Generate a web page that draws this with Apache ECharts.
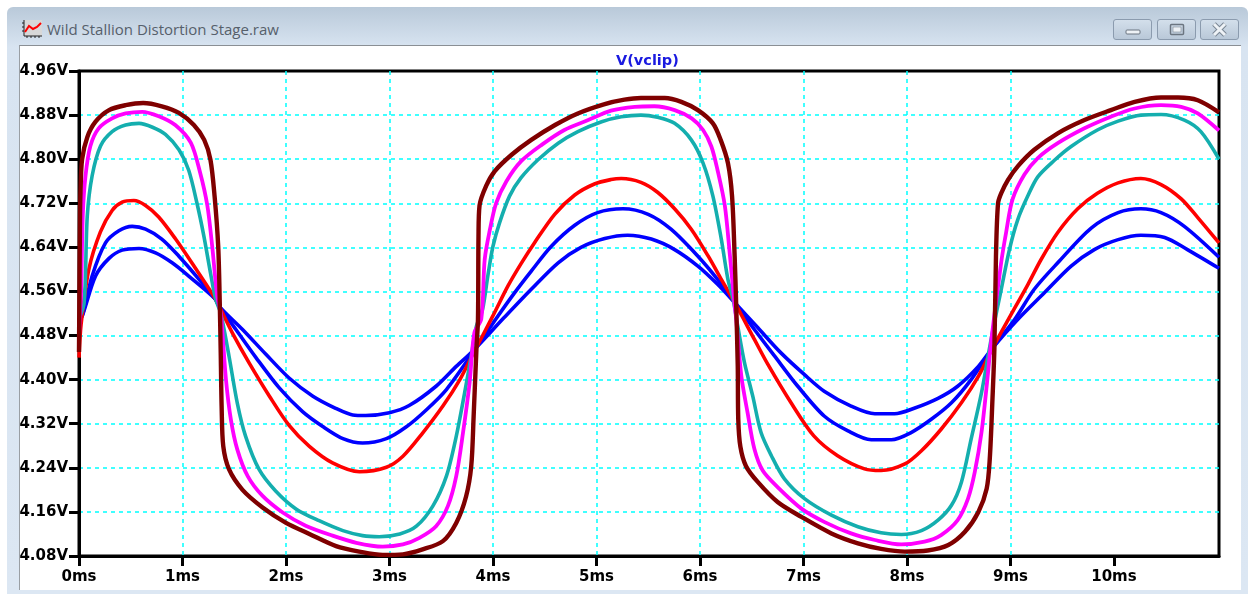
<!DOCTYPE html>
<html>
<head>
<meta charset="utf-8">
<title>Wild Stallion Distortion Stage.raw</title>
<script src="https://cdn.jsdelivr.net/npm/echarts@6/dist/echarts.min.js"></script>
<style>
  html, body { margin: 0; padding: 0; background: #fff; }
  #win { position: absolute; left: 7px; top: 7px; width: 1241px; height: 587px; border-radius: 6px 6px 0 0;
         background: linear-gradient(#b9c9d9, #d8e4f1 40px, #dce7f3); }
  #page { position: absolute; left: 19px; top: 45px; width: 1222px; height: 545px; background: #fff;
          border-top: 1px solid #8a8f94; border-left: 1px solid #9a9fa4; box-sizing: border-box; }
  #caption { position: absolute; left: 47px; top: 19px; font: 15px "Open Sans", sans-serif; color: #56606b; white-space: nowrap; }
  .btn { position: absolute; top: 19px; width: 39px; height: 21px; box-sizing: border-box; border: 1px solid #8b9bae;
         border-radius: 3px; background: linear-gradient(#d3dfeb, #b9c8d8); }
  .btn svg { position: absolute; left: 0; top: 0; }
  #icon { position: absolute; left: 21px; top: 18px; }
  #chart { position: absolute; left: 0; top: 0; width: 1249px; height: 594px; }
</style>
</head>
<body>
<div id="win"></div>
<div id="page"></div>
<svg id="icon" width="22" height="22">
  <rect x="3" y="2" width="18" height="16" fill="#d8d8d8"/>
  <path d="M3 2V18H21M1 5H3M1 9H3M1 13H3M6 18V20M10 18V20M14 18V20M18 18V20" stroke="#222" fill="none"/>
  <path d="M4 14L8 8L12 11L16 9L20 5" stroke="#f00" stroke-width="2" fill="none"/>
</svg>
<div id="caption">Wild Stallion Distortion Stage.raw</div>
<div class="btn" style="left:1113px"><svg width="37" height="19"><rect x="12" y="10" width="14" height="4" rx="1" fill="#eef2f6" stroke="#6b7580"/></svg></div>
<div class="btn" style="left:1157px"><svg width="37" height="19"><rect x="12.5" y="4.5" width="13" height="10" rx="1" fill="none" stroke="#6b7580" stroke-width="1.5"/><rect x="15" y="7" width="8" height="5" fill="#eef2f6" stroke="#6b7580" stroke-width="0.5"/></svg></div>
<div class="btn" style="left:1200px"><svg width="37" height="19"><path d="M13 4L24 15M24 4L13 15" stroke="#7a8794" stroke-width="5"/><path d="M13 4L24 15M24 4L13 15" stroke="#eef2f6" stroke-width="3"/></svg></div>
<div id="chart"></div>

<script>
const plotTitle = 'V(vclip)'
const timeTicks = [0, 1, 2, 3, 4, 5, 6, 7, 8, 9, 10]
const timeEnd = 11.015
const voltMin = 4.08
const voltMax = 4.96
const voltStep = 0.08

// [ms, volts]
const blueLow = [[0,4.51],[.03,4.515],[.16,4.588],[.29,4.62],[.417,4.635],[.58,4.638],[.74,4.63],[.9,4.612],[1.06,4.588],[1.32,4.546],[1.355,4.533],
  [1.58,4.491],[1.806,4.446],[2.03,4.403],[2.26,4.37],[2.48,4.348],[2.645,4.336],[2.77,4.335],[3,4.34],[3.19,4.353],[3.45,4.388],[3.645,4.424],[3.806,4.452],
  [4.11,4.513],[4.37,4.564],[4.63,4.612],[4.85,4.64],[5.08,4.656],[5.3,4.662],[5.53,4.655],[5.755,4.636],[5.98,4.606],[6.17,4.573],[6.335,4.54],
  [6.56,4.494],[6.78,4.449],[7.01,4.409],[7.2,4.379],[7.46,4.352],[7.69,4.338],[7.88,4.338],[8.07,4.348],[8.3,4.366],[8.49,4.388],[8.69,4.424],[8.83,4.458],
  [9.07,4.509],[9.33,4.558],[9.586,4.606],[9.81,4.636],[10.04,4.654],[10.26,4.662],[10.49,4.658],[10.71,4.636],[11.015,4.602]]

const blueMid = [[0,4.51],[.03,4.515],[.127,4.588],[.256,4.648],[.385,4.67],[.514,4.678],[.643,4.673],[.8,4.655],[.965,4.624],[1.16,4.582],[1.32,4.545],[1.355,4.533],
  [1.516,4.491],[1.71,4.44],[1.935,4.385],[2.16,4.342],[2.355,4.315],[2.55,4.293],[2.74,4.285],[2.97,4.293],[3.16,4.314],[3.355,4.345],[3.55,4.382],[3.806,4.449],
  [4.05,4.516],[4.21,4.558],[4.37,4.597],[4.564,4.642],[4.79,4.68],[5.01,4.703],[5.256,4.71],[5.5,4.7],[5.72,4.673],[5.98,4.624],[6.17,4.582],[6.335,4.54],
  [6.526,4.491],[6.72,4.443],[6.945,4.388],[7.2,4.334],[7.43,4.307],[7.655,4.291],[7.85,4.291],[8.04,4.304],[8.235,4.328],[8.43,4.358],[8.62,4.4],[8.83,4.458],
  [9.04,4.509],[9.23,4.564],[9.457,4.612],[9.78,4.675],[10.04,4.703],[10.26,4.71],[10.455,4.703],[10.68,4.678],[11.015,4.622]]

const redTrace = [[0,4.44],[.02,4.5],[.095,4.6],[.207,4.668],[.32,4.707],[.417,4.722],[.53,4.725],[.643,4.716],[.77,4.695],[.93,4.656],[1.09,4.612],[1.32,4.546],[1.355,4.533],
  [1.484,4.484],[1.645,4.43],[1.84,4.37],[2.03,4.317],[2.226,4.279],[2.45,4.249],[2.71,4.233],[2.97,4.241],[3.13,4.261],[3.32,4.303],[3.516,4.352],[3.68,4.4],[3.806,4.446],
  [4,4.516],[4.145,4.57],[4.27,4.61],[4.4,4.648],[4.596,4.7],[4.79,4.735],[4.98,4.755],[5.14,4.763],[5.24,4.765],[5.43,4.758],[5.59,4.74],[5.755,4.71],[5.916,4.673],[6.08,4.624],[6.206,4.582],[6.335,4.54],
  [6.526,4.473],[6.655,4.428],[6.88,4.358],[7.1,4.298],[7.33,4.262],[7.59,4.238],[7.75,4.235],[7.98,4.247],[8.14,4.271],[8.33,4.31],[8.526,4.358],[8.69,4.406],[8.83,4.458],
  [9,4.516],[9.167,4.572],[9.296,4.618],[9.457,4.667],[9.65,4.71],[9.84,4.738],[10.04,4.757],[10.26,4.765],[10.455,4.754],[10.65,4.728],[10.81,4.694],[11.015,4.648]]

const tealTrace = [[0,4.51],[.05,4.54],[.08,4.697],[.127,4.77],[.208,4.824],[.32,4.85],[.45,4.862],[.58,4.865],[.71,4.858],[.835,4.845],[.966,4.817],[1.06,4.78],[1.14,4.72],[1.207,4.66],[1.27,4.594],[1.32,4.546],
  [1.37,4.52],[1.45,4.442],[1.53,4.357],[1.61,4.297],[1.74,4.237],[1.9,4.198],[2.1,4.165],[2.32,4.144],[2.55,4.126],[2.74,4.117],[2.9,4.115],[3.1,4.12],[3.26,4.134],[3.42,4.171],[3.55,4.225],[3.645,4.297],[3.726,4.376],[3.79,4.443],[3.84,4.497],
  [3.9,4.528],[3.95,4.588],[4,4.642],[4.064,4.685],[4.16,4.733],[4.27,4.766],[4.435,4.799],[4.63,4.829],[4.82,4.85],[5.05,4.868],[5.24,4.877],[5.43,4.88],[5.59,4.876],[5.755,4.865],[5.916,4.835],[6.03,4.793],[6.125,4.733],[6.206,4.655],[6.27,4.582],[6.32,4.546],
  [6.365,4.497],[6.43,4.431],[6.51,4.37],[6.59,4.304],[6.69,4.262],[6.816,4.22],[7.01,4.184],[7.27,4.154],[7.526,4.133],[7.75,4.122],[7.945,4.119],[8.14,4.126],[8.3,4.145],[8.43,4.172],[8.526,4.214],[8.62,4.292],[8.72,4.376],[8.784,4.443],[8.83,4.49],
  [8.91,4.563],[8.99,4.636],[9.07,4.69],[9.167,4.733],[9.264,4.768],[9.425,4.798],[9.586,4.823],[9.84,4.853],[10.04,4.869],[10.26,4.88],[10.455,4.881],[10.68,4.871],[10.84,4.85],[11.015,4.8]]

const magentaTrace = [[0,4.48],[.02,4.56],[.037,4.7],[.063,4.77],[.11,4.824],[.19,4.856],[.32,4.874],[.45,4.883],[.61,4.886],[.77,4.878],[.93,4.862],[1.08,4.83],[1.17,4.776],[1.24,4.716],[1.287,4.642],[1.335,4.552],
  [1.37,4.52],[1.42,4.4],[1.468,4.327],[1.53,4.273],[1.63,4.225],[1.774,4.189],[1.968,4.159],[2.19,4.135],[2.45,4.117],[2.68,4.104],[2.935,4.097],[3.13,4.101],[3.29,4.113],[3.45,4.134],[3.565,4.171],[3.645,4.225],[3.71,4.303],[3.774,4.394],[3.82,4.485],
  [3.887,4.51],[3.92,4.618],[3.97,4.672],[4.03,4.72],[4.13,4.76],[4.27,4.796],[4.47,4.826],[4.69,4.853],[4.92,4.871],[5.14,4.888],[5.37,4.895],[5.56,4.896],[5.755,4.889],[5.92,4.874],[6.03,4.853],[6.11,4.823],[6.17,4.78],[6.24,4.716],[6.29,4.624],[6.335,4.535],
  [6.35,4.51],[6.4,4.406],[6.46,4.34],[6.526,4.274],[6.606,4.235],[6.75,4.205],[6.98,4.166],[7.2,4.142],[7.46,4.121],[7.69,4.109],[7.945,4.101],[8.17,4.106],[8.33,4.118],[8.49,4.145],[8.59,4.184],[8.655,4.232],[8.72,4.304],[8.77,4.388],[8.816,4.473],
  [8.91,4.612],[8.958,4.667],[9.02,4.727],[9.135,4.772],[9.264,4.802],[9.457,4.829],[9.715,4.856],[9.97,4.877],[10.2,4.892],[10.455,4.898],[10.65,4.895],[10.81,4.883],[11.015,4.852]]

const brownTrace = [[0,4.45],[.01,4.7],[.015,4.744],[.03,4.8],[.08,4.84],[.16,4.868],[.29,4.889],[.45,4.898],[.62,4.902],[.8,4.896],[.965,4.884],[1.11,4.862],[1.21,4.835],[1.27,4.799],[1.31,4.733],[1.345,4.642],[1.36,4.54],
  [1.37,4.442],[1.378,4.352],[1.394,4.279],[1.45,4.237],[1.58,4.2],[1.774,4.168],[2,4.14],[2.226,4.12],[2.484,4.098],[2.71,4.088],[2.935,4.082],[3.13,4.083],[3.32,4.092],[3.516,4.107],[3.645,4.14],[3.74,4.188],[3.79,4.243],[3.813,4.333],[3.84,4.455],
  [3.855,4.51],[3.86,4.66],[3.87,4.716],[3.935,4.752],[4.016,4.778],[4.18,4.808],[4.37,4.835],[4.6,4.862],[4.82,4.883],[5.08,4.9],[5.27,4.908],[5.43,4.911],[5.66,4.911],[5.82,4.904],[5.98,4.889],[6.125,4.865],[6.2,4.835],[6.27,4.793],[6.31,4.733],[6.335,4.624],[6.35,4.535],
  [6.365,4.425],[6.37,4.328],[6.39,4.279],[6.445,4.243],[6.56,4.214],[6.75,4.178],[6.98,4.151],[7.27,4.121],[7.526,4.103],[7.75,4.093],[7.98,4.088],[8.2,4.09],[8.4,4.1],[8.56,4.124],[8.69,4.16],[8.77,4.202],[8.8,4.256],[8.826,4.364],[8.845,4.458],
  [8.86,4.624],[8.88,4.72],[8.91,4.738],[8.975,4.762],[9.07,4.787],[9.23,4.817],[9.457,4.847],[9.715,4.871],[9.97,4.889],[10.2,4.904],[10.455,4.912],[10.62,4.912],[10.81,4.907],[11.015,4.885]]

const traces = [
  { data: blueLow, color: '#0000ff', width: 3.6 },
  { data: blueMid, color: '#0000ff', width: 3.6 },
  { data: redTrace, color: '#ff0000', width: 3.6 },
  { data: tealTrace, color: '#14aeae', width: 3.6 },
  { data: magentaTrace, color: '#ff00ff', width: 3.8 },
  { data: brownTrace, color: '#7f0000', width: 4.4 }
]

const labelFont = { color: '#000', fontFamily: 'DejaVu Sans', fontWeight: 'bold', fontSize: 15 }
const gridDash = { color: '#00ffff', width: 1.5, type: [4, 4] }

const chart = echarts.init(document.getElementById('chart'))
chart.setOption({
  animation: false,
  backgroundColor: 'transparent',
  title: {
    text: plotTitle,
    left: 611,
    top: 49,
    textStyle: { color: '#1a1ae0', fontFamily: 'DejaVu Sans', fontWeight: 'bold', fontSize: 14.5 }
  },
  grid: { left: 79, right: 30, top: 71, bottom: 38, show: true, borderColor: '#000', borderWidth: 3 },
  xAxis: {
    type: 'value',
    min: 0,
    max: timeEnd,
    axisLine: { lineStyle: { color: '#000', width: 3 } },
    axisTick: { length: 10, customValues: timeTicks, lineStyle: { color: '#000', width: 3 } },
    axisLabel: { ...labelFont, margin: 14, customValues: timeTicks, formatter: v => v + 'ms' },
    splitLine: { show: true, showMinLine: false, showMaxLine: false, lineStyle: gridDash }
  },
  yAxis: {
    type: 'value',
    min: voltMin,
    max: voltMax,
    interval: voltStep,
    axisLine: { show: true, lineStyle: { color: '#000', width: 3 } },
    axisTick: { show: true, length: 10, lineStyle: { color: '#000', width: 3 } },
    axisLabel: { ...labelFont, margin: 11, formatter: v => v.toFixed(2) + 'V' },
    splitLine: { show: true, showMinLine: false, showMaxLine: false, lineStyle: gridDash }
  },
  series: traces.map(t => ({
    type: 'line',
    data: t.data,
    symbol: 'none',
    smooth: 0.3,
    lineStyle: { color: t.color, width: t.width }
  }))
})
</script>
</body>
</html>
